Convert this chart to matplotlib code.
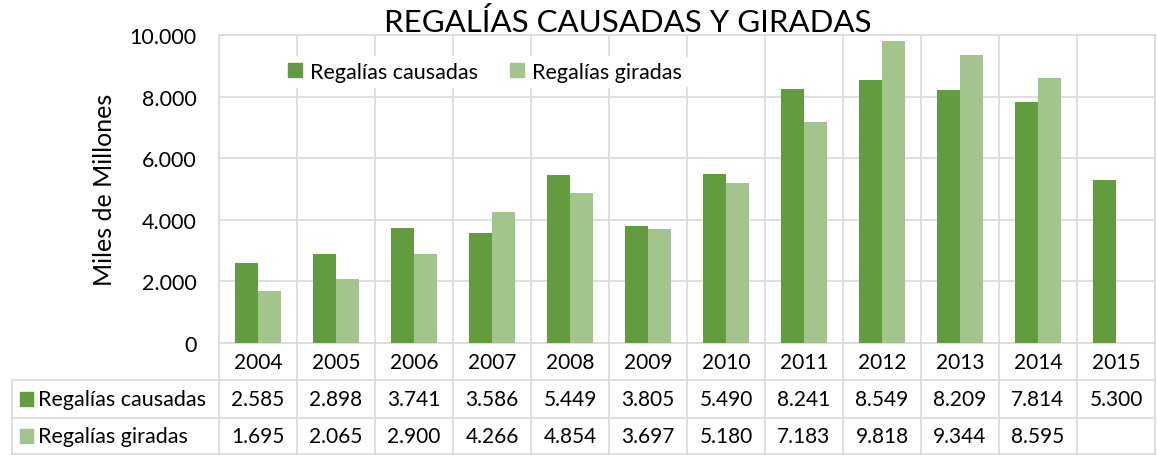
import matplotlib.pyplot as plt
import matplotlib.transforms as mtransforms
from matplotlib.patches import Patch
from matplotlib.ticker import FuncFormatter

plt.rcParams['font.family'] = ['Lato', 'DejaVu Sans']

years = ["2004", "2005", "2006", "2007", "2008", "2009", "2010", "2011",
         "2012", "2013", "2014", "2015"]
causadas = [2585, 2898, 3741, 3586, 5449, 3805, 5490, 8241, 8549, 8209, 7814, 5300]
giradas = [1695, 2065, 2900, 4266, 4854, 3697, 5180, 7183, 9818, 9344, 8595, None]
series_names = ["Regalías causadas", "Regalías giradas"]
colors = ["#629C3F", "#A3C58D"]
grid = "#D9D9D9"

W, H = 1157, 456
fig = plt.figure(figsize=(W / 100, H / 100), dpi=100)
ax = fig.add_axes([219 / W, (H - 344) / H, 936 / W, 308 / H])

x = list(range(len(years)))
bw = 0.29
ax.bar([i - bw / 2 for i in x], causadas, bw, color=colors[0], zorder=3)
gx = [i + bw / 2 for i, v in zip(x, giradas) if v is not None]
gv = [v for v in giradas if v is not None]
ax.bar(gx, gv, bw, color=colors[1], zorder=3)

ax.set_xlim(-0.5, len(years) - 0.5)
ax.set_ylim(0, 10000)
ax.set_yticks(range(0, 10001, 2000))
ax.yaxis.set_major_formatter(FuncFormatter(lambda v, p: f"{int(v):,}".replace(",", ".")))
ax.set_xticks([])
ax.tick_params(axis='y', length=0, pad=16, labelsize=15.5)
ax.grid(axis='y', color=grid, lw=1.2, zorder=0)
for b in [i + 0.5 for i in range(-1, len(years))]:
    ax.axvline(b, color=grid, lw=1.2, zorder=0)
for s in ax.spines.values():
    s.set_color(grid)
    s.set_linewidth(1.2)

ax.set_ylabel("Miles de Millones", fontsize=18, labelpad=10)
fig.text(628 / W, 1 - 22 / H, "REGALÍAS CAUSADAS Y GIRADAS", fontsize=22.5,
         ha='center', va='center')

handles = [Patch(color=c, label=n) for c, n in zip(colors, series_names)]
leg = ax.legend(handles=handles, ncol=2, loc='center left',
                bbox_to_anchor=(271 / W, 1 - 73 / H), bbox_transform=fig.transFigure,
                frameon=True, fontsize=15.5, handlelength=0.62, handleheight=0.62,
                handletextpad=0.4, columnspacing=1.5, borderpad=0.3)
leg.get_frame().set_edgecolor('none')
leg.get_frame().set_facecolor('white')
leg.get_frame().set_alpha(1)

# data table below the plot
def fy(py):
    return 1 - py / H

tr = mtransforms.blended_transform_factory(ax.transData, fig.transFigure)
lkw = dict(color=grid, lw=1.2, clip_on=False)
for b in [i + 0.5 for i in range(-1, len(years))]:
    fig.add_artist(plt.Line2D([b, b], [fy(344), fy(456)], transform=tr, **lkw))
for py in [381, 419, 455]:
    fig.add_artist(plt.Line2D([12 / W, 1155 / W], [fy(py), fy(py)],
                              transform=fig.transFigure, **lkw))
fig.add_artist(plt.Line2D([12 / W, 12 / W], [fy(381), fy(456)],
                          transform=fig.transFigure, **lkw))

fs = 15
for i, yr in enumerate(years):
    fig.text(i, fy(363), yr, transform=tr, ha='center', va='center', fontsize=fs)
rows = [(causadas, 400), (giradas, 437)]
for k, (vals, py) in enumerate(rows):
    for i, v in enumerate(vals):
        if v is not None:
            fig.text(i, fy(py), f"{v:,}".replace(",", "."), transform=tr,
                     ha='center', va='center', fontsize=fs)
    fig.add_artist(plt.Rectangle((20 / W, fy(py + 7)), 13 / W, 14 / H,
                                 transform=fig.transFigure, color=colors[k]))
    fig.text(38 / W, fy(py), series_names[k], ha='left', va='center', fontsize=15.5)

fig.savefig("out.png", dpi=100)
